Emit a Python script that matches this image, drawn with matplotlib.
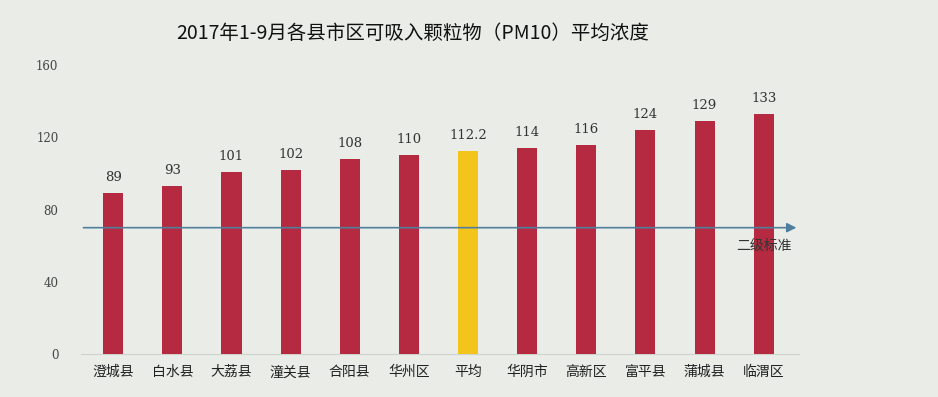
import matplotlib.pyplot as plt
import numpy as np

plt.rcParams['font.family'] = ['Noto Sans CJK SC', 'DejaVu Sans']

# data
regions = ["澄城县", "白水县", "大荔县", "潼关县", "合阳县", "华州区",
           "平均", "华阴市", "高新区", "富平县", "蒲城县", "临渭区"]
values = [89, 93, 101, 102, 108, 110, 112.2, 114, 116, 124, 129, 133]
value_labels = ["89", "93", "101", "102", "108", "110", "112.2",
                "114", "116", "124", "129", "133"]
standard = 70
standard_label = "二级标准"
y_ticks = [0, 40, 80, 120, 160]
title = "2017年1-9月各县市区可吸入颗粒物（PM10）平均浓度"

bg = "#e9ece7"
red = "#b52a40"
yellow = "#f2c41c"

fig = plt.figure(figsize=(9.38, 3.97), dpi=100, facecolor=bg)
ax = fig.add_axes([0.086, 0.108, 0.766, 0.728], facecolor=bg)

x = np.arange(len(regions))
colors = [yellow if r == "平均" else red for r in regions]
ax.bar(x, values, width=0.34, color=colors, zorder=3)

for xi, v, lab in zip(x, values, value_labels):
    ax.text(xi, v + 5, lab, ha="center", va="bottom", fontsize=9.5,
            color="#333333", family=["DejaVu Serif"])

ax.set_xlim(-0.55, 11.6)
ax.set_ylim(0, 160)
ax.set_yticks(y_ticks)
ax.set_yticklabels([str(t) for t in y_ticks], family=["DejaVu Serif"])
ax.tick_params(axis="y", length=0, labelsize=8.5, labelcolor="#444444", pad=16)
ax.set_xticks(x)
ax.set_xticklabels(regions, fontsize=10, color="#222222")
ax.tick_params(axis="x", length=0, pad=8)

for s in ["top", "right", "left"]:
    ax.spines[s].set_visible(False)
ax.spines["bottom"].set_color("#cfd3cd")
ax.spines["bottom"].set_linewidth(0.8)

# 二级标准 reference line with arrow
ax.annotate("", xy=(11.6, standard), xytext=(-0.55, standard),
            arrowprops=dict(arrowstyle="-|>", color="#4f7f9c", lw=1.2,
                            mutation_scale=14), zorder=4, annotation_clip=False)
ax.text(11.0, standard - 6, standard_label, ha="center", va="top",
        fontsize=10, color="#333333", zorder=5)

fig.text(0.44, 0.915, title, ha="center", va="center", fontsize=14,
         color="#111111")

fig.savefig("out.png", dpi=100, facecolor=bg)
